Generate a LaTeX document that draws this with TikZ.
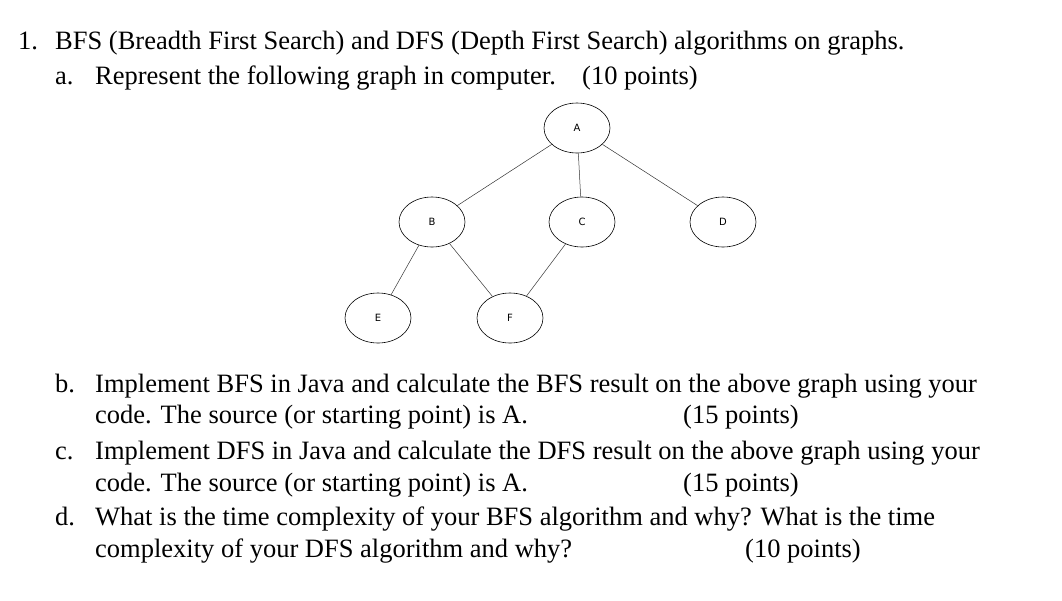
\documentclass[tikz,border=0pt]{standalone}
\usepackage{fontspec}
\setmainfont{Liberation Serif}
\setsansfont{DejaVu Sans}
\usetikzlibrary{shapes.geometric}
\begin{document}
\begin{tikzpicture}[x=1pt,y=-1pt,
  txt/.style={anchor=base west,inner sep=0pt,font=\fontsize{26.5}{28}\selectfont},
  vtx/.style={ellipse,draw,line width=0.6pt,minimum width=66pt,minimum height=50pt,inner sep=0pt,font=\sffamily\fontsize{10}{11}\selectfont},
  edge/.style={draw,line width=0.5pt,black!80}]
\useasboundingbox (0,0) rectangle (1062,600);
\node[txt] (l1n) at (18,49) {1.};
\node[txt] (l1) at (55,49) {BFS (Breadth First Search) and DFS (Depth First Search) algorithms on graphs.};
\node[txt] (l2n) at (55,84) {a.};
\node[txt] (l2) at (95,84) {Represent the following graph in computer.};
\node[txt] (l2p) at (582,84) {(10 points)};
\node[txt] (bn) at (55,392) {b.};
\node[txt] (b1) at (95,392) {Implement BFS in Java and calculate the BFS result on the above graph using your};
\node[txt] (b2) at (95,423) {code. The source (or starting point) is A.};
\node[txt] (bp) at (683,423) {(15 points)};
\node[txt] (cn) at (55,459) {c.};
\node[txt] (c1) at (95,459) {Implement DFS in Java and calculate the DFS result on the above graph using your};
\node[txt] (c2) at (95,491) {code. The source (or starting point) is A.};
\node[txt] (cp) at (683,491) {(15 points)};
\node[txt] (dn) at (55,525) {d.};
\node[txt] (d1) at (95,525) {What is the time complexity of your BFS algorithm and why? What is the time};
\node[txt] (d2) at (95,557) {complexity of your DFS algorithm and why?};
\node[txt] (dp) at (745,557) {(10 points)};
\node[vtx] (A) at (577,128) {A};
\node[vtx] (B) at (432,222) {B};
\node[vtx] (C) at (582,222) {C};
\node[vtx] (D) at (723,222) {D};
\node[vtx] (E) at (378,318) {E};
\node[vtx] (F) at (510,318) {F};
\draw[edge] (A) -- (B);
\draw[edge] (A) -- (C);
\draw[edge] (A) -- (D);
\draw[edge] (B) -- (E);
\draw[edge] (B) -- (F);
\draw[edge] (C) -- (F);
\end{tikzpicture}
\end{document}
